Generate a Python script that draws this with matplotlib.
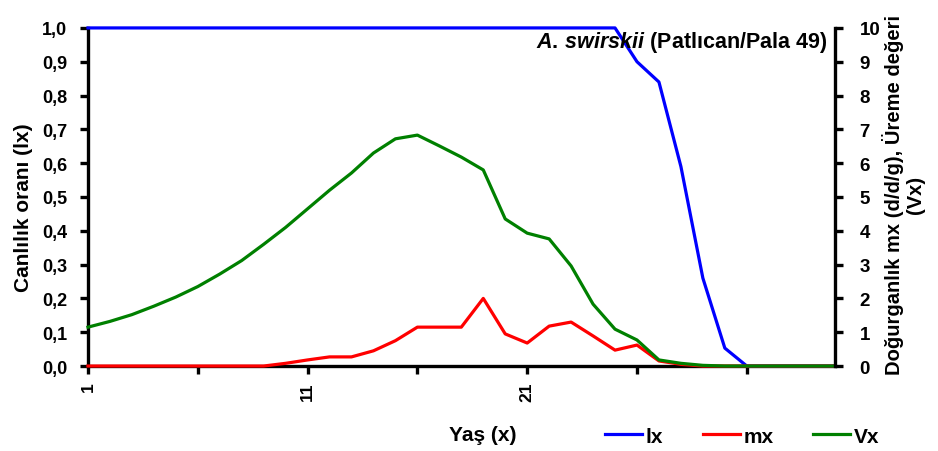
"""Yaşam çizelgesi grafiği: lx, mx ve Vx."""

import matplotlib
matplotlib.use("Agg")
import matplotlib.pyplot as plt
from matplotlib.ticker import FuncFormatter

plt.rcParams["font.family"] = ["Liberation Sans", "DejaVu Sans"]
plt.rcParams["font.weight"] = "bold"
plt.rcParams["mathtext.fontset"] = "custom"
plt.rcParams["mathtext.it"] = "Liberation Sans:italic:bold"
plt.rcParams["mathtext.rm"] = "Liberation Sans:bold"

age = list(range(1, 36))

# lx (sol eksen)
lx = [1.0] * 25 + [0.90, 0.84, 0.59, 0.26, 0.053] + [0.0] * 5

# mx (sağ eksen)
mx = [0.0] * 9 + [0.08, 0.18, 0.27, 0.27, 0.45, 0.75, 1.15, 1.15, 1.15, 2.0,
                  0.95, 0.68, 1.18, 1.3, 0.89, 0.47, 0.62, 0.15, 0.05] + [0.0] * 7

# Vx (sağ eksen)
vx = [1.15, 1.32, 1.52, 1.77, 2.04, 2.35, 2.72, 3.12, 3.6, 4.1,
      4.65, 5.2, 5.71, 6.3, 6.72, 6.83, 6.51, 6.18, 5.8, 4.35,
      3.93, 3.76, 2.96, 1.83, 1.09, 0.77, 0.18, 0.08, 0.02] + [0.0] * 6

x_ticks = [1, 6, 11, 16, 21, 26, 31]
x_labels = ["1", "", "11", "", "21", "", ""]

fig = plt.figure(figsize=(9.38, 4.52), dpi=100)
ax = fig.add_axes([0.0938, 0.188, 0.796, 0.748])
ax2 = ax.twinx()

lw = 2.3
l1, = ax.plot(age, lx, color="#0000ff", lw=lw, clip_on=False, label="lx", zorder=3)
l2, = ax2.plot(age, mx, color="#ff0000", lw=lw, clip_on=False, label="mx")
l3, = ax2.plot(age, vx, color="#008000", lw=lw, clip_on=False, label="Vx")

ax.set_xlim(1, 35)
ax.set_ylim(0, 1.0)
ax2.set_ylim(0, 10)
ax.set_yticks([i / 10 for i in range(11)])
ax2.set_yticks(range(11))
ax.yaxis.set_major_formatter(FuncFormatter(lambda v, p: f"{v:.1f}".replace(".", ",")))
ax.set_xticks(x_ticks)
ax.set_xticklabels(x_labels, rotation=90)

for a in (ax, ax2):
    for side in ("left", "right", "bottom", "top"):
        a.spines[side].set_linewidth(2.4)
    a.spines["top"].set_visible(False)
    a.tick_params(width=2.4, length=6, labelsize=13, direction="out", pad=9)
ax.tick_params(axis="x", pad=5, labelsize=12.5)
ax2.tick_params(axis="y", pad=12, labelsize=13.5)
ax.spines["right"].set_visible(False)
ax2.spines["left"].set_visible(False)
ax2.spines["bottom"].set_visible(False)

ax.set_ylabel("Canlılık oranı (lx)", fontsize=15, fontweight="bold")
ax.yaxis.set_label_coords(-0.074, 0.47)
ax2.set_ylabel("Doğurganlık mx (d/d/g), Üreme değeri\n(Vx)", fontsize=14.5,
               fontweight="bold", linespacing=1.1)
ax2.yaxis.set_label_coords(1.064, 0.51)

fig.text(483 / 938, 16 / 452, "Yaş (x)", ha="center", va="center",
         fontsize=15, fontweight="bold")

ax2.text(0.991, 0.96, r"$A.\,swirskii$ (Patlıcan/Pala 49)", transform=ax2.transAxes,
         ha="right", va="center", fontsize=15.5, fontweight="bold")

fig.legend(handles=[l1, l2, l3], loc="center left", bbox_to_anchor=(0.636, 0.033),
           ncol=3, frameon=False, handlelength=1.8, borderaxespad=0,
           handletextpad=0.15, columnspacing=1.9, prop={"weight": "bold", "size": 15})

fig.savefig("out.png", dpi=100)
plt.close(fig)
